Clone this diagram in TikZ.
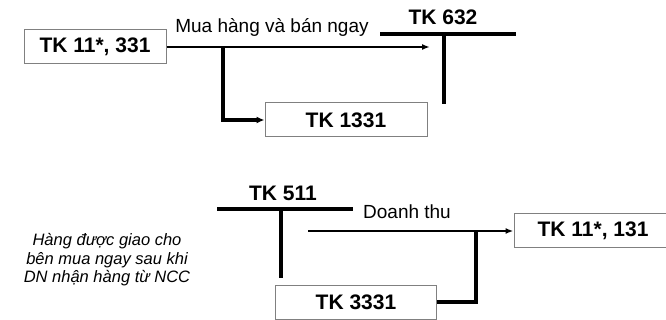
\documentclass[tikz,border=0pt]{standalone}
\usepackage{fontspec}
\setmainfont{Liberation Sans}
\usetikzlibrary{positioning,arrows.meta}
\begin{document}
\begin{tikzpicture}[x=1pt,y=-1pt,
  acctbox/.style={rectangle,draw=black!50,line width=1pt,minimum height=34pt,inner sep=0pt,font=\fontsize{21}{24}\selectfont\bfseries},
  acctname/.style={inner sep=0pt,font=\fontsize{21}{24}\selectfont\bfseries},
  tline/.style={line width=3.6pt},
  flow/.style={line width=1.8pt,-{Latex[length=8pt,width=6pt]}},
  thickflow/.style={line width=3.4pt,-{Latex[length=8pt,width=7pt]}},
  lbl/.style={inner sep=0pt,font=\fontsize{19}{22}\selectfont}]
\useasboundingbox (0,0) rectangle (666,320);

% Mua hang
\node (tk11) [acctbox,minimum width=142pt] at (95,47) {TK 11*, 331};
\node (tk1331) [acctbox,minimum width=162pt] at (346,120) {TK 1331};
\node (mua) [lbl] at (272,27) {Mua hàng và bán ngay};
\coordinate (t632) at (444,34);
\node (l632) [acctname] at (443,17) {TK 632};
\draw[tline] ([xshift=-64pt]t632) -- ([xshift=72pt]t632);
\draw[tline] (t632) -- ++(0,70);
\coordinate (end632) at (430,47);
\coordinate (br) at (223,47);
\draw[flow] (tk11.east) -- (end632);
\draw[thickflow] (br) |- (tk1331.west);

% Ban hang
\coordinate (t511) at (281,209);
\node (l511) [acctname] at (283,193) {TK 511};
\draw[tline] ([xshift=-64pt]t511) -- ([xshift=72pt]t511);
\draw[tline] (t511) -- ++(0,69);
\node (tk131) [acctbox,minimum width=158pt] at (593,231) {TK 11*, 131};
\node (tk3331) [acctbox,minimum width=161pt] at (356,302) {TK 3331};
\node (dt) [lbl] at (407,212) {Doanh thu};
\coordinate (start) at (308,231);
\coordinate (jn) at (476,231);
\draw[flow] (start) -- (tk131.west);
\draw[line width=3.4pt] (tk3331.east) -| (jn);

\node (note) [align=center,inner sep=0pt,font=\fontsize{16.5}{18.5}\selectfont\itshape] at (107,260) {Hàng được giao cho\\bên mua ngay sau khi\\DN nhận hàng từ NCC};
\end{tikzpicture}
\end{document}
